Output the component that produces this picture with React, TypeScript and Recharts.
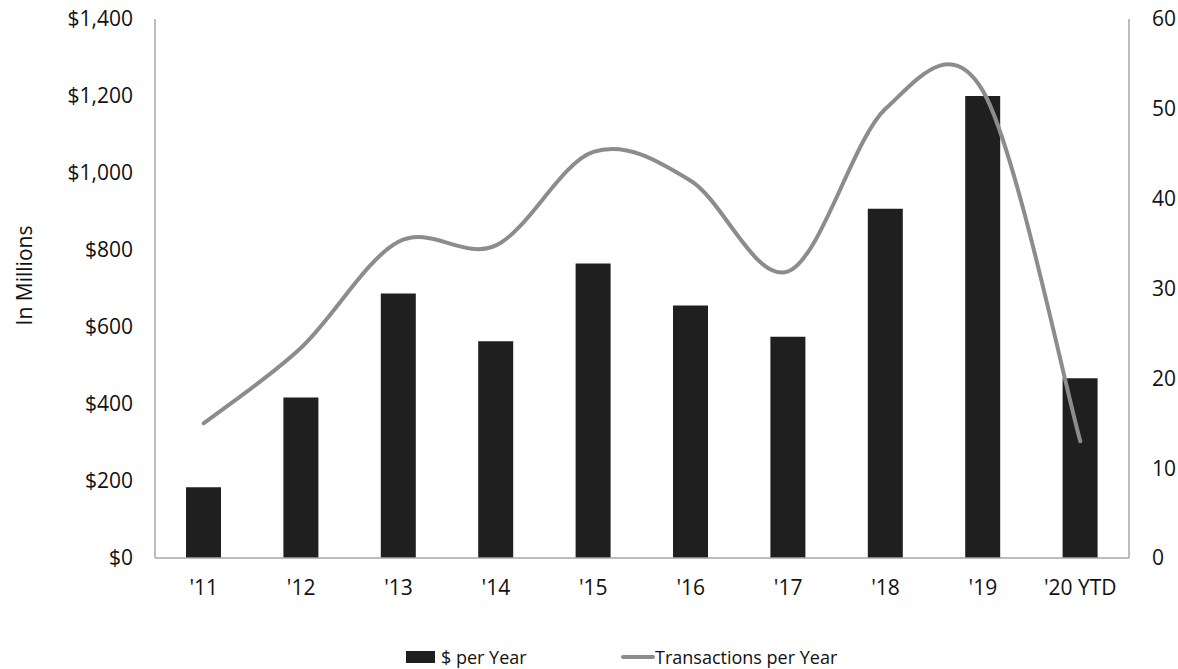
import React from 'react';
import { ComposedChart, Bar, Line, XAxis, YAxis, Legend } from 'recharts';

const categories = ["'11", "'12", "'13", "'14", "'15", "'16", "'17", "'18", "'19", "'20 YTD"];
const dollarsPerYear = [184, 417, 687, 563, 765, 656, 575, 907, 1200, 467];
const transactionsPerYear = [15, 23.4, 35.2, 34.8, 45.2, 42, 31.9, 50, 52, 13];
const leftTicks = [0, 200, 400, 600, 800, 1000, 1200, 1400];
const rightTicks = [0, 10, 20, 30, 40, 50, 60];

const data = categories.map((c, i) => ({
  year: c,
  dollars: dollarsPerYear[i],
  transactions: transactionsPerYear[i],
}));

const FONT = '"Open Sans", sans-serif';
const AXIS_COLOR = '#a6a6a6';
const TEXT_COLOR = '#111';

const fmtDollar = (v: number) => '$' + String(v).replace(/\B(?=(\d{3})+(?!\d))/g, ',');

// Excel-like smoothed line (Catmull-Rom converted to cubic Bezier)
const excelSmooth = (context: any) => {
  let xs: number[] = [];
  let ys: number[] = [];
  return {
    areaStart() {},
    areaEnd() {},
    lineStart() {
      xs = [];
      ys = [];
    },
    point(x: number, y: number) {
      xs.push(+x);
      ys.push(+y);
    },
    lineEnd() {
      const n = xs.length;
      if (!n) return;
      context.moveTo(xs[0], ys[0]);
      for (let i = 0; i < n - 1; i++) {
        const i0 = Math.max(i - 1, 0);
        const i3 = Math.min(i + 2, n - 1);
        const c1x = xs[i] + (xs[i + 1] - xs[i0]) / 6;
        const c1y = ys[i] + (ys[i + 1] - ys[i0]) / 6;
        const c2x = xs[i + 1] - (xs[i3] - xs[i]) / 6;
        const c2y = ys[i + 1] - (ys[i3] - ys[i]) / 6;
        context.bezierCurveTo(c1x, c1y, c2x, c2y, xs[i + 1], ys[i + 1]);
      }
    },
  };
};

const renderLegend = (props: any) => {
  const payload = props.payload || [];
  return (
    <div style={{ display: 'flex', height: 24, alignItems: 'center', paddingLeft: 406, fontFamily: FONT, fontSize: 18, color: TEXT_COLOR }}>
      {payload.map((entry: any, i: number) => (
        <div key={i} style={{ display: 'flex', alignItems: 'center', width: i === 0 ? 215 : 'auto' }}>
          {entry.type === 'line' ? (
            <svg width={34} height={10} style={{ display: 'block' }}>
              <line x1={2} y1={5} x2={32} y2={5} stroke={entry.color} strokeWidth={4} strokeLinecap="round" />
            </svg>
          ) : (
            <svg width={35} height={12} style={{ display: 'block' }}>
              <rect x={0} y={0} width={29} height={12} fill={entry.color} />
            </svg>
          )}
          <span style={{ lineHeight: '24px', whiteSpace: 'nowrap' }}>{entry.value}</span>
        </div>
      ))}
    </div>
  );
};

const YLabel = (props: any) => {
  const vb = props.viewBox || { x: 0, y: 0, width: 0, height: 0 };
  const cx = 24;
  const cy = vb.y + vb.height / 2 - 13;
  return (
    <text
      x={cx}
      y={cy}
      transform={`rotate(-90, ${cx}, ${cy})`}
      textAnchor="middle"
      dominantBaseline="central"
      fontFamily={FONT}
      fontSize={21}
      fill={TEXT_COLOR}
    >
      In Millions
    </text>
  );
};

export default function App() {
  return (
    <div style={{ position: 'absolute', left: 0, top: 0, width: 1178, height: 669, background: '#fff' }}>
      <ComposedChart
        width={1178}
        height={669}
        data={data}
        margin={{ top: 19, right: 0, bottom: 0, left: 0 }}
        style={{ fontFamily: FONT }}
      >
        <XAxis
          dataKey="year"
          height={87}
          axisLine={{ stroke: AXIS_COLOR, strokeWidth: 1.5 }}
          tickLine={false}
          tickSize={0}
          tickMargin={22}
          tick={{ fontSize: 21, fill: TEXT_COLOR, fontFamily: FONT }}
          interval={0}
        />
        <YAxis
          yAxisId="left"
          orientation="left"
          width={155}
          domain={[0, 1400]}
          ticks={leftTicks}
          tickFormatter={fmtDollar}
          axisLine={{ stroke: AXIS_COLOR, strokeWidth: 1.5 }}
          tickLine={false}
          tickSize={0}
          tickMargin={22}
          tick={{ fontSize: 21, fill: TEXT_COLOR, fontFamily: FONT }}
          label={<YLabel />}
          interval={0}
        />
        <YAxis
          yAxisId="right"
          orientation="right"
          width={49}
          domain={[0, 60]}
          ticks={rightTicks}
          axisLine={{ stroke: AXIS_COLOR, strokeWidth: 1.5 }}
          tickLine={false}
          tickSize={0}
          tickMargin={23}
          tick={{ fontSize: 21, fill: TEXT_COLOR, fontFamily: FONT }}
          interval={0}
        />
        <Bar
          yAxisId="left"
          dataKey="dollars"
          name="$ per Year"
          fill="#1f1f1f"
          barSize={35}
          legendType="rect"
          isAnimationActive={false}
        />
        <Line
          yAxisId="right"
          dataKey="transactions"
          name="Transactions per Year"
          type={excelSmooth as any}
          stroke="#8c8c8c"
          strokeWidth={4}
          strokeLinecap="round"
          dot={false}
          activeDot={false}
          legendType="line"
          isAnimationActive={false}
        />
        <Legend
          content={renderLegend}
          wrapperStyle={{ top: 645, left: 0, width: 1178 }}
        />
      </ComposedChart>
    </div>
  );
}
